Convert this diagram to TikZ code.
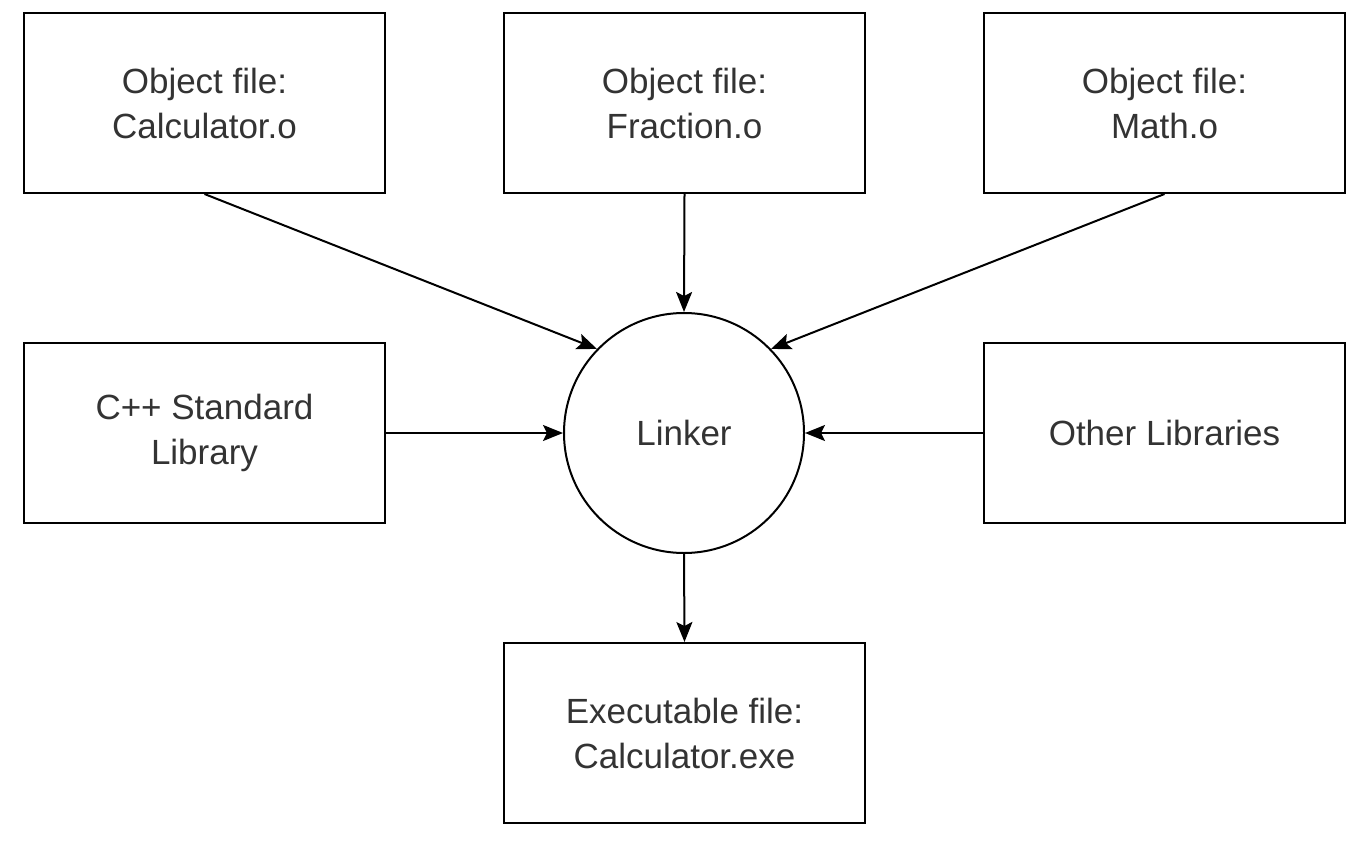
\documentclass[tikz,border=0pt]{standalone}
\usepackage{fontspec}
\setmainfont{Liberation Sans}
\usepackage{tikz}
\usetikzlibrary{calc}
\usetikzlibrary{shapes}
\usetikzlibrary{arrows.meta}
\definecolor{txtgray}{HTML}{333333}
\tikzset{
  filebox/.style={draw, line width=1pt, rectangle, minimum width=180.5pt, minimum height=90pt, align=center, text=txtgray, font=\fontsize{17.5}{22.5}\selectfont},
  linkcirc/.style={draw, line width=1pt, circle, minimum size=120pt, inner sep=0pt, text=txtgray, font=\fontsize{17.5}{22.5}\selectfont},
  link/.style={line width=1pt, -{Stealth[length=10pt,width=8pt,inset=2pt]}}
}
\newcommand{\filebox}[4]{\node[filebox] (#1) at ( #2 , #3 ) {#4};}
\begin{document}
\begin{tikzpicture}[x=0.5pt,y=-0.5pt]
\useasboundingbox (0,0) rectangle (1370,850);
% top row of object files
\filebox{calc}{204.5}{103}{Object file:\\Calculator.o}
\filebox{frac}{684.5}{103}{Object file:\\Fraction.o}
\filebox{math}{1164.5}{103}{Object file:\\Math.o}
% middle row
\filebox{stdlib}{204.5}{433}{C++ Standard\\Library}
\node[linkcirc] (linker) at (684,433) {Linker};
\filebox{other}{1164.5}{433}{Other Libraries}
% output
\filebox{exe}{684.5}{733}{Executable file:\\Calculator.exe}
% arrows into the linker
\draw[link] (calc.south) -- (linker.136);
\draw[link] (frac.south) -- (linker.north);
\draw[link] (math.south) -- (linker.44);
\draw[link] (stdlib.east) -- (linker.west);
\draw[link] (other.west) -- (linker.east);
\draw[link] (linker.south) -- (exe.north);
\end{tikzpicture}
\end{document}
